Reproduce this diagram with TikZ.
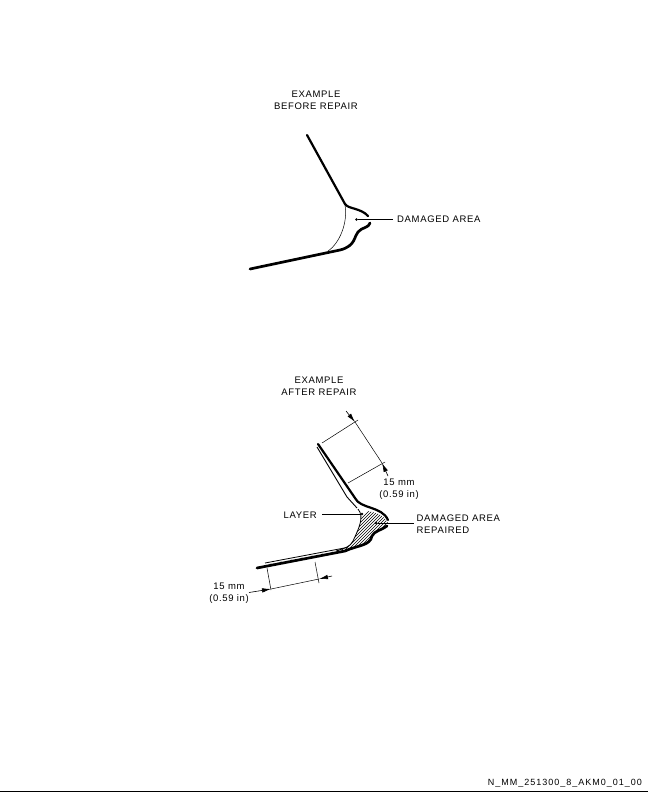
\documentclass[tikz,border=0pt]{standalone}
\usepackage{fontspec}
\setmainfont{Liberation Sans}[LetterSpace=7]
\newfontfamily\footfont{Liberation Sans}[LetterSpace=11]
\usetikzlibrary{arrows.meta}
\tikzset{
 lbl/.style={font=\fontsize{9.5}{11.7}\selectfont,align=center,inner sep=0pt},
 lead/.style={line width=0.7pt},
 thin line/.style={line width=0.5pt},
 thick line/.style={line width=2.2pt,line cap=round,line join=round},
 heavy line/.style={line width=2.7pt,line cap=round,line join=round},
 dotted end/.style={fill=black,circle,inner sep=0pt,minimum size=2.6pt},
 dimarrow/.style={line width=0.6pt,-{Latex[length=9pt,width=4.5pt]}}
}
\begin{document}
\begin{tikzpicture}[x=1pt,y=-1pt]
\useasboundingbox (0,0) rectangle (648,792);
\fill[white] (0,0) rectangle (648,792);
% top
\node[lbl] (t1) at (316,100.5) {EXAMPLE\\BEFORE REPAIR};
\draw[thick line] (307,135) -- (345,204) .. controls (348,209) and (361,208) .. (368,216);
\draw[heavy line] (370,223) .. controls (369,228) and (362,227) .. (358,232) .. controls (354,236) and (356,246) .. (340,250) -- (250,269);
\draw[thin line] (345,205) .. controls (348,222) and (340,243) .. (328,251);
\node[dotted end] (d1) at (356.5,219.5) {};
\node[lbl,anchor=west] (a1) at (397,219.5) {DAMAGED AREA};
\coordinate (a1e) at (393,219.5);
\draw[lead] (d1) -- (a1e);
% bottom
\node[lbl] (t2) at (319,386.5) {EXAMPLE\\AFTER REPAIR};
\begin{scope}
\clip (358,509) .. controls (365,517) and (358,530) .. (353,541) .. controls (350,547) and (345,548) .. (336,551)
 .. controls (356,549) and (364,545) .. (370,542) .. controls (372,532) and (382,530) .. (388,523) .. controls (382,510) and (365,512) .. (358,509) -- cycle;
\foreach \k in {0,3,...,90}{\draw[line width=.5pt] (310+\k,570) -- (310+\k+70,500);}
\end{scope}
\draw[line width=.8pt] (358,509) .. controls (365,517) and (358,530) .. (353,541) .. controls (350,547) and (345,548) .. (336,551);
\draw[thick line] (318,444) -- (355,498) .. controls (360,509) and (382,506) .. (388,520);
\draw[heavy line] (387,526) .. controls (382,530) and (374,531) .. (372,536) .. controls (370,546) and (358,545) .. (345,551) -- (257,568);
\draw[line width=.9pt] (317,447) -- (347,497) -- (357,508);
\draw[line width=.8pt] (265,563) -- (347,547.5);
\draw[line width=1.1pt,dash pattern=on 1.5pt off 9pt] (270,564.5) -- (340,551);
\node[dotted end] (d2) at (362,514) {};
\node[lbl,anchor=east] (a2) at (317,515) {LAYER};
\coordinate (a2s) at (322,514);
\draw[lead] (a2s) -- (d2);
\node[dotted end] (d3) at (376,523) {};
\node[lbl,align=left,anchor=west] (a3) at (416.5,524) {DAMAGED AREA\\REPAIRED};
\coordinate (a3e) at (414,523);
\draw[lead] (d3) -- (a3e);
% dims upper
\coordinate (u1) at (322,443); \coordinate (u2) at (358,420);
\coordinate (u3) at (348,483); \coordinate (u4) at (385,462);
\draw[thin line] (u1) -- (u2); \draw[thin line] (u3) -- (u4);
\coordinate (u5) at (355,422); \coordinate (u6) at (382,463);
\draw[thin line] (u5) -- (u6);
\coordinate (u7) at (346,411); \coordinate (u8) at (388,476);
\draw[dimarrow] (u7) -- (u5);
\draw[dimarrow] (u8) -- (u6);
\node[lbl] (l1) at (399,489) {15 mm\\(0.59 in)};
% dims lower
\coordinate (v1) at (267,568); \coordinate (v2) at (271,590);
\coordinate (v3) at (315,562); \coordinate (v4) at (319,583);
\draw[thin line] (v1) -- (v2); \draw[thin line] (v3) -- (v4);
\coordinate (w2) at (271,589); \coordinate (w4) at (319,579);
\draw[thin line] (w2) -- (w4);
\coordinate (w1) at (249,592.5); \coordinate (w3) at (332,576);
\draw[dimarrow] (w1) -- (w2);
\draw[dimarrow] (w3) -- (w4);
\node[lbl] (l2) at (229,593) {15 mm\\(0.59 in)};
% footer
\node[lbl,anchor=east,font=\footfont\fontsize{9}{10}\selectfont] (fn) at (642,783.5) {N\_MM\_251300\_8\_AKM0\_01\_00};
\coordinate (r1) at (0,791); \coordinate (r2) at (648,791);
\draw[line width=.8pt] (r1) -- (r2);
\end{tikzpicture}
\end{document}
